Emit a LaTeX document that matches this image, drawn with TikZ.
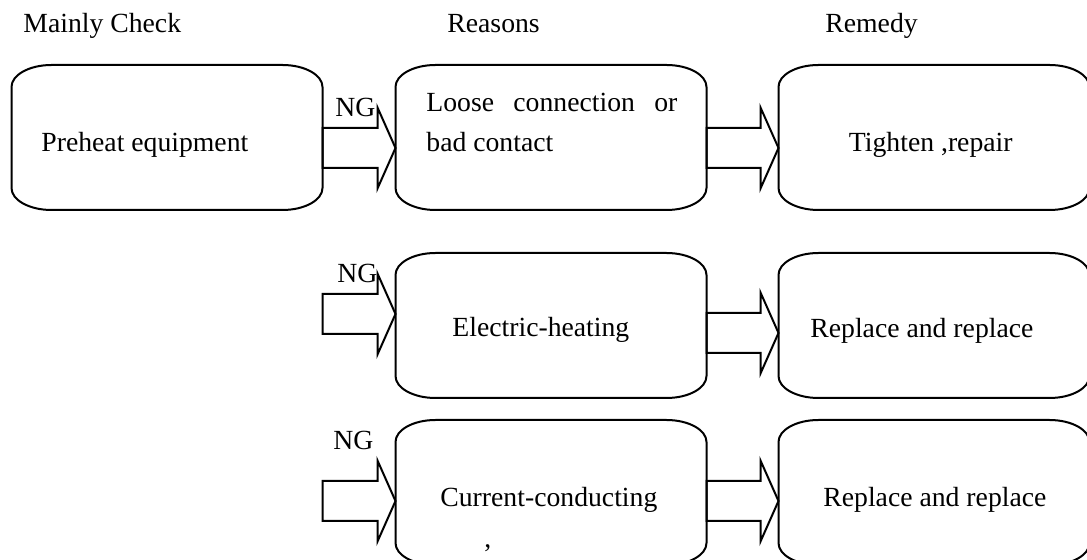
\documentclass[tikz,border=0pt]{standalone}
\usepackage{fontspec}
\setmainfont{Liberation Serif}
\usetikzlibrary{positioning}

% hollow block arrow: from (#1) to tip (#2) at height #3
\newcommand{\blockarrow}[3]{%
  \coordinate (s) at (#1 |- 0,#3);
  \coordinate (t) at (#2 |- 0,#3);
  \draw [arrowline] ([yshift=10pt]s) -- ([xshift=-9pt,yshift=10pt]t) -- ([xshift=-9pt,yshift=20.25pt]t) -- (t)
    -- ([xshift=-9pt,yshift=-20.25pt]t) -- ([xshift=-9pt,yshift=-10pt]t) -- ([yshift=-10pt]s) -- cycle;}

\begin{document}
\begin{tikzpicture}[x=0.5pt, y=-0.5pt, font=\fontsize{13.85pt}{16pt}\selectfont]
% Define styles
\tikzstyle{box} = [rectangle, inner sep=0pt, outer sep=0pt, minimum width=155.5pt, minimum height=72.5pt]
\tikzstyle{outline} = [line width=1pt]
\tikzstyle{arrowline} = [line width=1pt, line join=miter]
\tikzstyle{txt} = [anchor=base west, inner sep=0pt]

\useasboundingbox (0,0) rectangle (1087,560);
\clip (0,0) rectangle (1087,560);

% Headings
\node (hdcheck) [txt] at (23,33) {Mainly Check};
\node (hdreason) [txt] at (447,33) {Reasons};
\node (hdremedy) [txt] at (825,33) {Remedy};

% Boxes
\node (check) [box] at (167,137.5) {};
\node (loose) [box, right=36.5pt of check] {};
\node (tighten) [box, right=36pt of loose] {};
\node (heat) [box, below=21.5pt of loose] {};
\node (repl2) [box, right=36pt of heat] {};
\node (cond) [box, below=11pt of heat] {};
\node (repl3) [box, right=36pt of cond] {};

\foreach \n in {check,loose,tighten,heat,repl2,cond,repl3}
  \draw [outline] ([xshift=20pt]\n.north west) -- ([xshift=-20pt]\n.north east)
    arc [start angle=90, end angle=0, x radius=20pt, y radius=11pt]
    -- ([yshift=11pt]\n.south east)
    arc [start angle=0, end angle=-90, x radius=20pt, y radius=11pt]
    -- ([xshift=20pt]\n.south west)
    arc [start angle=270, end angle=180, x radius=20pt, y radius=11pt]
    -- ([yshift=-11pt]\n.north west)
    arc [start angle=180, end angle=90, x radius=20pt, y radius=11pt] -- cycle;

% Texts in boxes
\node (tcheck) [txt] at (41,152) {Preheat equipment};
\node (tloose) [txt] at (426,112) {\makebox[125.5pt][s]{Loose connection or}};
\node (tloose2) [txt] at (426,152) {bad contact};
\node (ttighten) [txt, anchor=base east] at (1013,152) {Tighten ,repair};
\node (theat) [txt] at (452,337) {Electric-heating};
\node (trepl2) [txt] at (810,338) {Replace and replace};
\node (tcond) [txt] at (440,507) {Current-conducting};
\node (tcomma) [txt] at (484,548) {,};
\node (trepl3) [txt] at (823,507) {Replace and replace};

% Arrows
\blockarrow{check.east}{loose.west}{148}
\blockarrow{check.east}{heat.west}{314}
\blockarrow{check.east}{cond.west}{501}
\blockarrow{loose.east}{tighten.west}{148}
\blockarrow{heat.east}{repl2.west}{333}
\blockarrow{cond.east}{repl3.west}{501}

% NG labels
\node (ng1) [txt] at (335,117) {NG};
\node (ng2) [txt] at (337,283) {NG};
\node (ng3) [txt] at (333,450) {NG};
\end{tikzpicture}
\end{document}
